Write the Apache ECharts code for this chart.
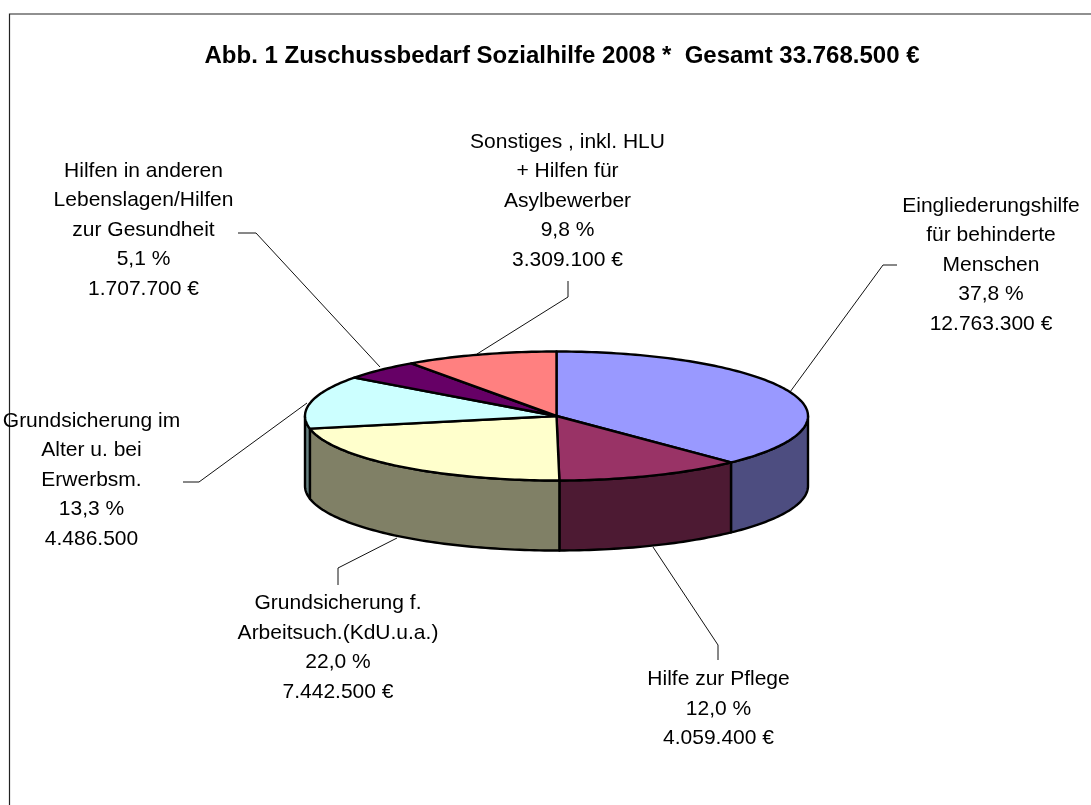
<!DOCTYPE html>
<html>
<head>
<meta charset="utf-8">
<style>html,body{margin:0;padding:0;background:#fff}#c{width:1091px;height:805px}</style>
<script src="https://cdn.jsdelivr.net/npm/echarts@6/dist/echarts.min.js"></script>
</head>
<body>
<div id="c"></div>
<script>
// ---- data ----
const chartTitle = 'Abb. 1 Zuschussbedarf Sozialhilfe 2008 *  Gesamt 33.768.500 €';
const categories = [
  'Eingliederungshilfe\nfür behinderte\nMenschen',
  'Hilfe zur Pflege',
  'Grundsicherung f.\nArbeitsuch.(KdU.u.a.)',
  'Grundsicherung im\nAlter u. bei\nErwerbsm.',
  'Hilfen in anderen\nLebenslagen/Hilfen\nzur Gesundheit',
  'Sonstiges , inkl. HLU\n+ Hilfen für\nAsylbewerber'
];
const euroValues = [12763300, 4059400, 7442500, 4486500, 1707700, 3309100];
const percentLabels = ['37,8 %', '12,0 %', '22,0 %', '13,3 %', '5,1 %', '9,8 %'];
const euroLabels = ['12.763.300 €', '4.059.400 €', '7.442.500 €', '4.486.500', '1.707.700 €', '3.309.100 €'];

// ---- styles and layout ----
const topColors = ['#9999FF', '#993366', '#FFFFCC', '#CCFFFF', '#660066', '#FF8080'];
const sideColors = ['#4D4D80', '#4D1A33', '#808066', '#668080', '#330033', '#804040'];
const pie = {cx: 556.5, cy: 416, rx: 251.5, ry: 64.5, depth: 70};
const labelCentres = [[991, 205.8], [718.5, 679.6], [338, 603.6], [91.5, 421], [143.5, 171], [567.5, 142]];
const leaderPaths = [
  [[790, 392], [883, 265], [897, 265]],
  [[653, 547], [718, 645], [718, 660]],
  [[397, 538], [338, 568], [338, 585]],
  [[307, 403], [199, 482], [183, 482]],
  [[380, 367], [256, 233], [238, 233]],
  [[477, 354], [568, 297], [568, 281]]
];
const lineGap = 29.5;
const fontFamily = '"Liberation Sans", Arial, sans-serif';

// slice boundaries, clockwise from the top, from the values
const total = euroValues.reduce((a, b) => a + b, 0);
const starts = [];
euroValues.reduce((acc, v, i) => { starts[i] = acc; return acc + v; }, 0);
const angleOf = v => v / total * 2 * Math.PI;
const rimPoint = (t, dy) => [pie.cx + pie.rx * Math.sin(t), pie.cy - pie.ry * Math.cos(t) + (dy || 0)];
function arc(a, b, dy) {
  const n = Math.max(2, Math.ceil(Math.abs(b - a) / 0.02));
  const pts = [];
  for (let k = 0; k <= n; k++) pts.push(rimPoint(a + (b - a) * k / n, dy));
  return pts;
}
const seriesData = euroValues.map((v, i) => ({name: categories[i], value: v}));

function renderSide(params, api) {
  const i = params.dataIndex;
  const a = Math.max(angleOf(starts[i]), Math.PI / 2);
  const b = Math.min(angleOf(starts[i] + api.value(0)), Math.PI * 1.5);
  if (b <= a) return {type: 'group', children: []};
  const upper = arc(a, b, 0);
  const lower = arc(b, a, pie.depth);
  return {
    type: 'polygon',
    shape: {points: upper.concat(lower)},
    style: {fill: sideColors[i], stroke: '#000', lineWidth: 2.4, lineJoin: 'round'}
  };
}
function renderTop(params, api) {
  const i = params.dataIndex;
  const a = angleOf(starts[i]);
  const b = angleOf(starts[i] + api.value(0));
  return {
    type: 'polygon',
    shape: {points: [[pie.cx, pie.cy]].concat(arc(a, b, 0))},
    style: {fill: topColors[i], stroke: '#000', lineWidth: 2.4, lineJoin: 'round'}
  };
}
function renderLabel(params) {
  const i = params.dataIndex;
  const c = labelCentres[i];
  return {
    type: 'group',
    children: [
      {
        type: 'polyline',
        shape: {points: leaderPaths[i]},
        style: {fill: 'none', stroke: '#111', lineWidth: 1}
      },
      {
        type: 'text',
        style: {
          x: c[0],
          y: c[1] - lineGap / 2,
          text: categories[i] + '\n' + percentLabels[i] + '\n' + euroLabels[i],
          fill: '#000',
          font: '21px ' + fontFamily,
          lineHeight: lineGap,
          align: 'center',
          verticalAlign: 'top'
        }
      }
    ]
  };
}

const chart = echarts.init(document.getElementById('c'), null, {renderer: 'canvas'});
chart.setOption({
  backgroundColor: '#fff',
  animation: false,
  title: {
    text: chartTitle,
    left: 557,
    top: 39,
    textAlign: 'center',
    textStyle: {fontFamily: fontFamily, fontSize: 24, fontWeight: 'bold', color: '#000'}
  },
  graphic: [
    {type: 'polyline', silent: true, shape: {points: [[9.5, 805], [9.5, 14], [1091, 14]]},
     style: {fill: 'none', stroke: '#222', lineWidth: 1.2}}
  ],
  series: [
    {type: 'custom', coordinateSystem: 'none', name: 'Beschriftung', silent: true, z: 2, renderItem: renderLabel, data: seriesData},
    {type: 'custom', coordinateSystem: 'none', name: 'Seiten', silent: true, z: 3, renderItem: renderSide, data: seriesData},
    {type: 'custom', coordinateSystem: 'none', name: 'Zuschussbedarf', silent: true, z: 4, renderItem: renderTop, data: seriesData}
  ]
});
</script>
</body>
</html>
